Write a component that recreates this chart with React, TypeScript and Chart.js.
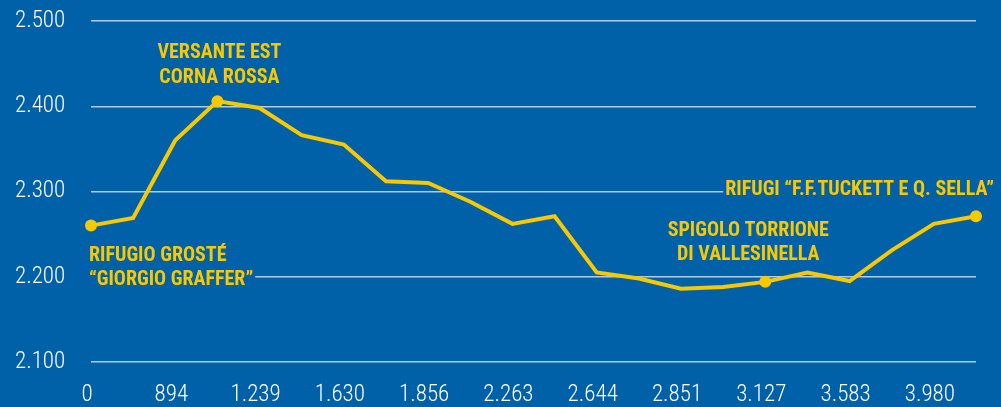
import React, { useEffect, useRef } from "react";
import { Chart, registerables } from "chart.js";

Chart.register(...registerables);

// Distance labels (every second point is labelled)
const distanceLabels: string[] = [
  "0", "", "894", "", "1.239", "", "1.630", "", "1.856", "", "2.263",
  "", "2.644", "", "2.851", "", "3.127", "", "3.583", "", "3.980", "",
];

// Elevation (m)
const elevations: number[] = [
  2260, 2269, 2360, 2406, 2398, 2366, 2355, 2312, 2310, 2288, 2262,
  2271, 2205, 2198, 2186, 2188, 2194, 2205, 2195, 2231, 2262, 2271,
];

// Indices of the highlighted places
const markedPoints: number[] = [0, 3, 16, 21];

const placeNames: string[][] = [
  ["RIFUGIO GROSTÉ", "\u201CGIORGIO GRAFFER\u201D"],
  ["VERSANTE EST", "CORNA ROSSA"],
  ["SPIGOLO TORRIONE", "DI VALLESINELLA"],
  ["RIFUGI \u201CF.F.TUCKETT E Q. SELLA\u201D"],
];

const yTicks: number[] = [2100, 2200, 2300, 2400, 2500];

const BG = "#0060a8";
const YELLOW = "#f8c800";
const FAMILY = "Roboto, 'Open Sans', sans-serif";

export default function App() {
  const ref = useRef<HTMLCanvasElement | null>(null);

  useEffect(() => {
    if (!ref.current) return;

    const bgPlugin = {
      id: "bg",
      beforeDraw(chart: any) {
        const { ctx, width, height } = chart;
        ctx.save();
        ctx.fillStyle = BG;
        ctx.fillRect(0, 0, width, height);
        ctx.restore();
      },
    };

    // label layout: [pointIndex, align, dx, dy of first line]
    const labelLayout: [number, CanvasTextAlign, number, number][] = [
      [markedPoints[0], "left", -2, 30],
      [markedPoints[1], "center", 2, -48],
      [markedPoints[2], "center", -17, -51],
      [markedPoints[3], "right", 18, -26],
    ];

    const labelPlugin = {
      id: "placeLabels",
      beforeDatasetsDraw(chart: any) {
        const { ctx, scales } = chart;
        const xs = scales.x;
        const ys = scales.y;
        ctx.save();
        ctx.font = `normal condensed bold 20px ${FAMILY}`;
        ctx.textBaseline = "middle";
        labelLayout.forEach(([idx, align, dx, dy], k) => {
          const px = xs.getPixelForValue(idx);
          const py = ys.getPixelForValue(elevations[idx]);
          const lines = placeNames[k];
          lines.forEach((line, li) => {
            const x = px + dx;
            const y = py + dy + li * 24.5;
            const w = ctx.measureText(line).width;
            let left = x;
            if (align === "center") left = x - w / 2;
            if (align === "right") left = x - w;
            ctx.fillStyle = BG;
            ctx.fillRect(left - 2, y - 10, w + 4, 20);
            ctx.fillStyle = YELLOW;
            ctx.textAlign = align;
            ctx.fillText(line, x, y);
          });
        });
        ctx.restore();
      },
    };

    const tickFont = { family: FAMILY, size: 23, weight: "condensed 300" as any };

    const chart = new Chart(ref.current, {
      type: "line",
      data: {
        labels: distanceLabels,
        datasets: [
          {
            data: elevations,
            borderColor: YELLOW,
            backgroundColor: YELLOW,
            borderWidth: 4,
            pointRadius: elevations.map((_, i) => (markedPoints.includes(i) ? 6 : 0)),
            pointBorderWidth: 0,
            pointBackgroundColor: YELLOW,
            tension: 0,
            fill: false,
          },
        ],
      },
      options: {
        animation: false,
        responsive: false,
        maintainAspectRatio: false,
        layout: { padding: { left: 15, right: 25, top: 21, bottom: 0 } },
        plugins: {
          legend: { display: false },
          tooltip: { enabled: false },
        },
        scales: {
          x: {
            type: "category",
            offset: false,
            grid: { display: false, drawTicks: false },
            border: { display: false },
            ticks: {
              autoSkip: false,
              maxRotation: 0,
              minRotation: 0,
              color: "#ffffff",
              padding: 19,
              labelOffset: -4,
              font: tickFont,
            },
            afterFit(scale: any) {
              scale.height = 45;
            },
          },
          y: {
            min: 2100,
            max: 2500,
            afterBuildTicks(scale: any) {
              scale.ticks = yTicks.map((v) => ({ value: v }));
            },
            grid: {
              color: "rgba(205,225,245,0.85)",
              lineWidth: 1.5,
              drawTicks: false,
            },
            border: { display: false },
            ticks: {
              color: "#ffffff",
              crossAlign: "far",
              padding: 0,
              font: tickFont,
              callback: (v: any) => {
                const n = Number(v);
                return `${Math.floor(n / 1000)}.${String(n % 1000).padStart(3, "0")}`;
              },
            },
            afterFit(scale: any) {
              scale.width = 76;
            },
          },
        },
      },
      plugins: [bgPlugin, labelPlugin],
    });

    return () => chart.destroy();
  }, []);

  return (
    <div style={{ position: "fixed", left: 0, top: 0, width: 1001, height: 407 }}>
      <canvas ref={ref} width={1001} height={407} style={{ display: "block" }} />
    </div>
  );
}
